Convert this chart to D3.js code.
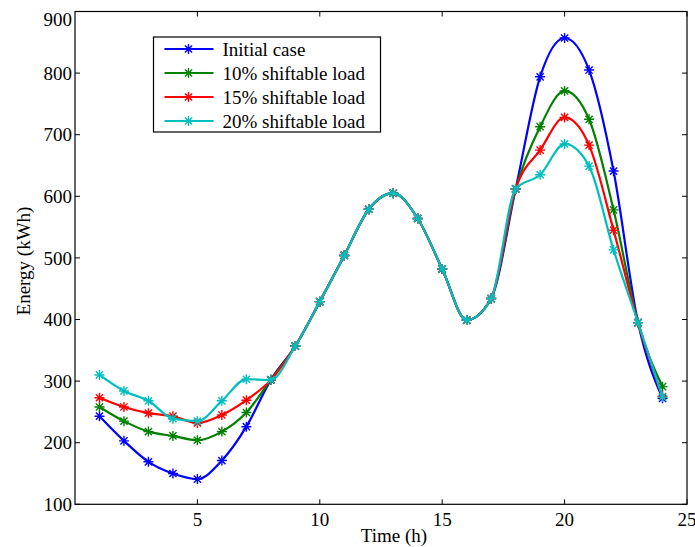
<!DOCTYPE html>
<html>
<head>
<meta charset="utf-8">
<script src="https://cdn.jsdelivr.net/npm/d3@7"></script>
<style>
  body { margin: 0; background: #fff; }
  svg { display: block; font-family: "Liberation Serif", "Times New Roman", serif; }
</style>
</head>
<body>
<svg id="chart"></svg>
<script>
// Data
const hours = [1, 2, 3, 4, 5, 6, 7, 8, 9, 10, 11, 12, 13, 14, 15, 16, 17, 18, 19, 20, 21, 22, 23, 24];

const initialCase = [243, 203, 169, 150, 141, 171, 226, 302, 357, 429, 504, 579, 605, 564, 482, 399, 434, 612, 794, 857, 805, 641, 395, 272];
const shift10 = [258, 235, 218, 211, 204, 218, 249, 302, 357, 429, 504, 579, 605, 564, 482, 399, 434, 612, 713, 771, 725, 578, 395, 291];
const shift15 = [273, 258, 248, 243, 232, 245, 269, 302, 357, 429, 504, 579, 605, 564, 482, 399, 434, 612, 675, 728, 683, 545, 395, 275];
const shift20 = [310, 284, 268, 239, 235, 268, 303, 302, 357, 429, 504, 579, 605, 564, 482, 399, 434, 612, 635, 685, 649, 513, 395, 274];

const seriesNames = ["Initial case", "10% shiftable load", "15% shiftable load", "20% shiftable load"];
const seriesColors = ["#0000ff", "#008000", "#ff0000", "#00bfbf"];
const xTicks = [5, 10, 15, 20, 25];
const yTicks = [100, 200, 300, 400, 500, 600, 700, 800, 900];

const series = [initialCase, shift10, shift15, shift20].map((vals, i) => ({
    name: seriesNames[i],
    color: seriesColors[i],
    values: vals.map((v, j) => ({ h: hours[j], e: v }))
}));

// Size
const W = 695, H = 547;
const margin = { top: 11.5, right: 8, bottom: 42.7, left: 75 };
const width = W - margin.left - margin.right,
      height = H - margin.top - margin.bottom;

const svg = d3.select("#chart")
    .attr("width", W)
    .attr("height", H);

const chart = svg.append("g")
    .attr("transform", `translate(${margin.left},${margin.top})`);

const x = d3.scaleLinear().domain([0, 25]).range([0, width]);
const y = d3.scaleLinear().domain([100, 900]).range([height, 0]);

const tickLen = 5;

// Frame
chart.append("rect")
    .attr("width", width)
    .attr("height", height)
    .attr("fill", "none")
    .attr("stroke", "#000")
    .attr("stroke-width", 1.2);

// x ticks (bottom + top, inward)
chart.selectAll(".xt")
    .data(xTicks)
    .enter()
    .append("g")
    .each(function(d) {
        const g = d3.select(this);
        g.append("line")
            .attr("x1", x(d)).attr("x2", x(d))
            .attr("y1", height).attr("y2", height - tickLen)
            .attr("stroke", "#000");
        g.append("line")
            .attr("x1", x(d)).attr("x2", x(d))
            .attr("y1", 0).attr("y2", tickLen)
            .attr("stroke", "#000");
        g.append("text")
            .attr("x", x(d))
            .attr("y", height + 22)
            .attr("text-anchor", "middle")
            .style("font-size", "19px")
            .text(d);
    });

// y ticks (left + right, inward)
chart.selectAll(".yt")
    .data(yTicks)
    .enter()
    .append("g")
    .each(function(d) {
        const g = d3.select(this);
        g.append("line")
            .attr("x1", 0).attr("x2", tickLen)
            .attr("y1", y(d)).attr("y2", y(d))
            .attr("stroke", "#000");
        g.append("line")
            .attr("x1", width).attr("x2", width - tickLen)
            .attr("y1", y(d)).attr("y2", y(d))
            .attr("stroke", "#000");
        g.append("text")
            .attr("x", -3)
            .attr("y", Math.max(y(d), 8))
            .attr("dy", "0.35em")
            .attr("text-anchor", "end")
            .style("font-size", "19px")
            .text(d);
    });

// Lines
const line = d3.line()
    .x(d => x(d.h))
    .y(d => y(d.e))
    .curve(d3.curveMonotoneX);

const star = "M-5,0H5M0,-5V5M-3.6,-3.6L3.6,3.6M-3.6,3.6L3.6,-3.6";

series.forEach(s => {
    chart.append("path")
        .datum(s.values)
        .attr("d", line)
        .attr("fill", "none")
        .attr("stroke", s.color)
        .attr("stroke-width", 2.2);

    chart.selectAll(null)
        .data(s.values)
        .enter()
        .append("path")
        .attr("transform", d => `translate(${x(d.h)},${y(d.e)})`)
        .attr("d", star)
        .attr("fill", "none")
        .attr("stroke", s.color)
        .attr("stroke-width", 1.4);
});

// Legend
const legend = svg.append("g")
    .attr("transform", "translate(153.5,37)");

legend.append("rect")
    .attr("width", 227)
    .attr("height", 95)
    .attr("fill", "#fff")
    .attr("stroke", "#000")
    .attr("stroke-width", 1.2);

series.forEach((s, i) => {
    const ly = 12 + i * 24;
    legend.append("line")
        .attr("x1", 11).attr("x2", 60)
        .attr("y1", ly).attr("y2", ly)
        .attr("stroke", s.color)
        .attr("stroke-width", 2.2);
    legend.append("path")
        .attr("transform", `translate(35,${ly})`)
        .attr("d", star)
        .attr("fill", "none")
        .attr("stroke", s.color)
        .attr("stroke-width", 1.4);
    legend.append("text")
        .attr("x", 69)
        .attr("y", ly)
        .attr("dy", "0.35em")
        .style("font-size", "19px")
        .text(s.name);
});

// Axis titles
svg.append("text")
    .attr("transform", "rotate(-90)")
    .attr("x", -261)
    .attr("y", 30)
    .attr("text-anchor", "middle")
    .style("font-size", "19px")
    .text("Energy (kWh)");

svg.append("text")
    .attr("x", 394)
    .attr("y", 542)
    .attr("text-anchor", "middle")
    .style("font-size", "19px")
    .text("Time (h)");
</script>
</body>
</html>
